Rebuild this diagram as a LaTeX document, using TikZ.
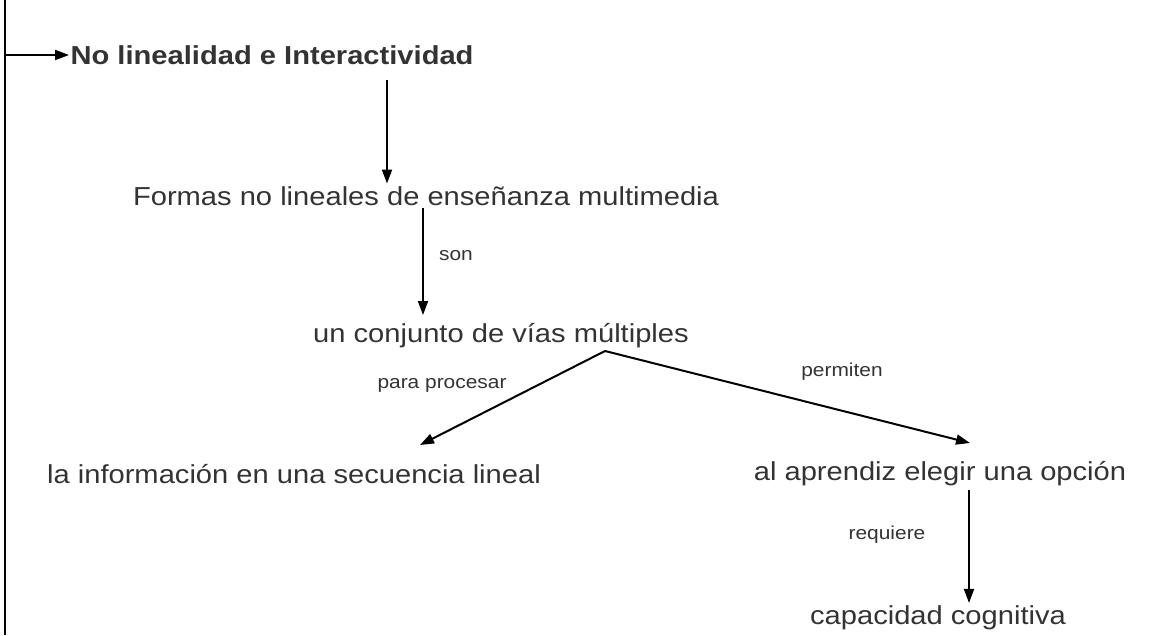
\documentclass[tikz,border=0pt]{standalone}
\usepackage{fontspec}
\usetikzlibrary{arrows.meta}
\newfontfamily\mapfont[FakeStretch=1.12]{Liberation Sans}
\definecolor{txtgray}{HTML}{333333}
\tikzset{
  concept/.style={font=\mapfont\fontsize{19.5}{23}\selectfont, text=txtgray, inner sep=2pt},
  maintitle/.style={font=\mapfont\bfseries\fontsize{19.5}{23}\selectfont, text=txtgray, inner sep=1pt},
  linklabel/.style={font=\mapfont\fontsize{14}{17}\selectfont, text=txtgray, inner sep=1pt},
  arr/.style={-{Triangle[length=10.5pt,width=7.5pt]}, line width=1.5pt}
}
\begin{document}
\begin{tikzpicture}[x=0.75pt,y=-0.75pt]
\useasboundingbox (0,0) rectangle (1176,635);
% concepts
\node[maintitle, anchor=west] (titulo) at (69,55) {No linealidad e Interactividad};
\node[concept] (formas) at (426,196) {Formas no lineales de enseñanza multimedia};
\node[concept] (vias) at (501,336) {un conjunto de vías múltiples};
\node[concept] (info) at (294,474) {la información en una secuencia lineal};
\node[concept] (aprendiz) at (940,474) {al aprendiz elegir una opción};
\node[concept] (capacidad) at (938,618) {capacidad cognitiva};
% link words
\node[linklabel] (son) at (456,256) {son};
\node[linklabel] (procesar) at (442,385) {para procesar};
\node[linklabel] (permiten) at (842,372) {permiten};
\node[linklabel] (requiere) at (887,535) {requiere};
% left bar
\coordinate (bartop) at (5,0);
\coordinate (barbot) at (5,635);
\draw[line width=1.5pt] (bartop) -- (barbot);
\draw[arr] (bartop |- titulo.west) -- (titulo.west);
% connectors
\draw[arr] (387,80) -- (formas.north -| 387,0);
\draw[arr] (formas.south -| 423,0) -- (423,315);
\draw[arr] (605,351) -- (420,445);
\draw[arr] (605,351) -- (970,443);
\draw[arr] (969,490) -- (capacidad.north -| 969,0);
\end{tikzpicture}
\end{document}
